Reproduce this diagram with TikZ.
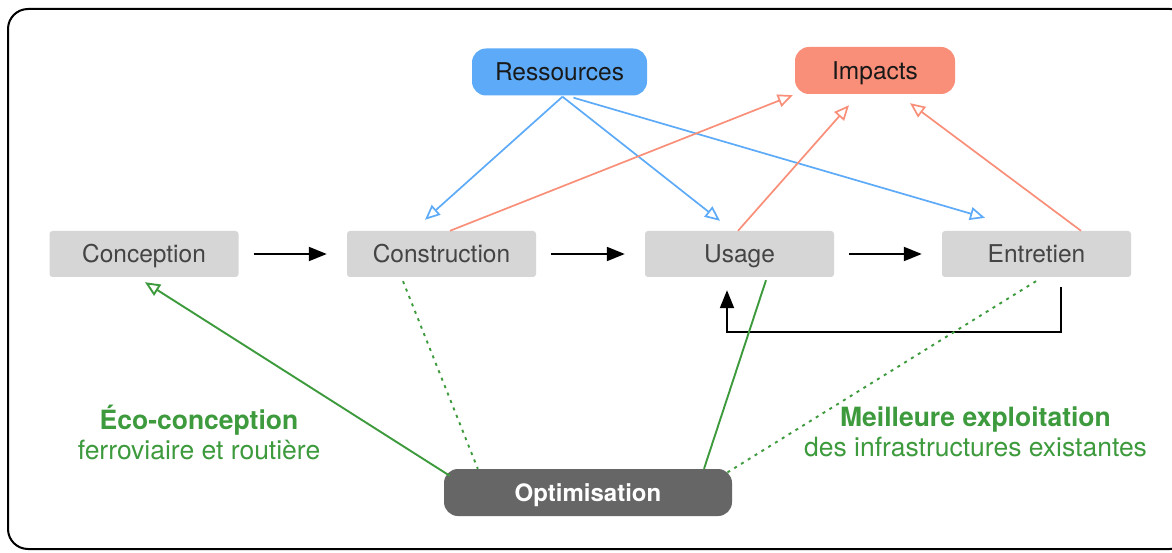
\documentclass[tikz,border=0pt]{standalone}
\usepackage{fontspec}
\setmainfont{TeX Gyre Heros}
\usetikzlibrary{arrows.meta,calc}
\definecolor{boxgray}{HTML}{D6D6D6}
\definecolor{boxtext}{HTML}{444444}
\definecolor{resblue}{HTML}{5DABF8}
\definecolor{impred}{HTML}{F98F79}
\definecolor{optgray}{HTML}{666666}
\definecolor{grn}{HTML}{3D9A3D}
\tikzset{
  stage/.style={fill=boxgray, rounded corners=3pt, minimum width=189pt, minimum height=46pt, inner sep=0pt, text=boxtext, font=\fontsize{24.5}{28}\selectfont, text height=20pt, text depth=2pt},
  pill/.style={rounded corners=14pt, minimum height=47pt, inner sep=0pt, font=\fontsize{24.5}{28}\selectfont, text height=20pt, text depth=2pt},
  flow/.style={line width=2pt, black, -{Triangle[length=18pt,width=14pt]}},
  bluearr/.style={line width=1.7pt, resblue, -{Triangle[open,length=15pt,width=13pt]}},
  redarr/.style={line width=1.7pt, impred, -{Triangle[open,length=15pt,width=13pt]}},
  grnline/.style={line width=1.9pt, grn},
  grndot/.style={line width=1.9pt, grn, dash pattern=on 3pt off 5pt},
  lbl/.style={text=grn, align=center, font=\fontsize{26.5}{30}\selectfont}
}
\begin{document}
\begin{tikzpicture}[x=1pt,y=-1pt]
\useasboundingbox (0,0) rectangle (1172,553);
\clip (0,0) rectangle (1172,553);
\fill[white] (0,0) rectangle (1172,553);
\draw[line width=2pt, rounded corners=20pt] (8,9) rectangle (1190,549);

\node[stage] (conc) at (144,254) {Conception};
\node[stage] (cons) at (441.5,254) {Construction};
\node[stage] (usage) at (739.5,254) {Usage};
\node[stage] (ent) at (1036.5,254) {Entretien};
\node[pill, fill=resblue, minimum width=175pt, text=black!90] (res) at (559.5,72) {Ressources};
\node[pill, fill=impred, minimum width=160pt, text=black!90] (imp) at (875,70.5) {Impacts};
\node[pill, fill=optgray, minimum width=288pt, text=white, font=\fontsize{24}{28}\selectfont\bfseries] (opt) at (588,492.5) {Optimisation};

% main flow
\draw[flow, shorten <=15pt, shorten >=20pt] (conc) -- (cons);
\draw[flow, shorten <=15pt, shorten >=20pt] (cons) -- (usage);
\draw[flow, shorten <=15pt, shorten >=20pt] (usage) -- (ent);
\draw[flow] ($(ent.south)+(24.5,10)$) -- ++(0,45) -| ($(usage.south)+(-12.5,13)$);

% resources
\draw[bluearr] ($(res.south)+(3,1)$) -- ($(cons.north)+(-16.5,-11)$);
\draw[bluearr] ($(res.south)+(3,1)$) -- ($(usage.north)+(-19.5,-10)$);
\draw[bluearr] ($(res.south)+(14,2)$) -- ($(ent.north)+(-51.5,-13)$);

% impacts
\draw[redarr] ($(cons.north)+(8.5,0)$) -- ($(imp.south west)+(-2,1)$);
\draw[redarr] ($(usage.north)+(-1.5,0)$) -- ($(imp.south)+(-26,11)$);
\draw[redarr] ($(ent.north)+(44.5,0)$) -- ($(imp.south)+(35,9)$);

% optimisation links
\draw[grnline, -{Triangle[open,length=15pt,width=13pt]}] ($(opt.north west)+(6,7)$) -- ($(conc.south)+(1,5)$);
\draw[grndot] ($(cons.south)+(-38.5,4)$) -- ($(opt.north west)+(34,0)$);
\draw[grnline] ($(usage.south)+(26.5,3)$) -- ($(opt.north)+(116,0)$);
\draw[grndot] ($(ent.south)+(-0.5,4)$) -- ($(opt.north east)+(-7,5)$);

\node[lbl] (eco) at (199,432) {\textbf{Éco-conception}\\ferroviaire et routière};
\node[lbl] (meil) at (975.5,432) {\textbf{Meilleure exploitation}\\des infrastructures existantes};
\end{tikzpicture}
\end{document}
